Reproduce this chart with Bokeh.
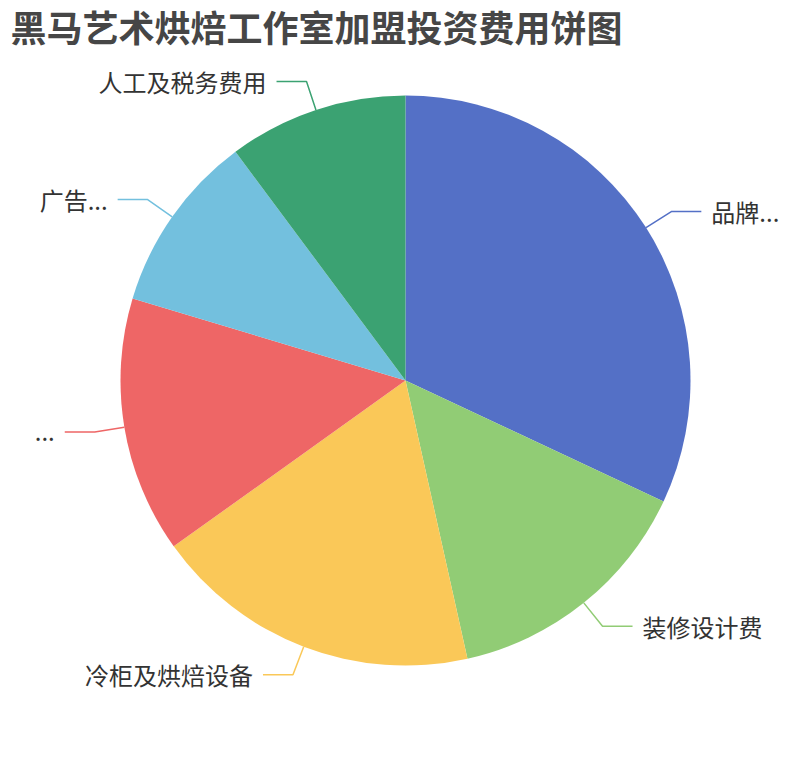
import numpy as np
from bokeh.plotting import figure
from bokeh.models import Range1d, ColumnDataSource
from bokeh.core.properties import value
from bokeh.embed import file_html
from bokeh.resources import INLINE

title_text = "黑马艺术烘焙工作室加盟投资费用饼图"
names = ["品牌...", "装修设计费", "冷柜及烘焙设备", "...", "广告...", "人工及税务费用"]
values = [11, 5, 6.4, 5, 3.5, 3.5]
colors = ["#5470c6", "#91cc75", "#fac858", "#ee6666", "#73c0de", "#3ba272"]

W, H = 794, 744
p = figure(width=W, height=H, output_backend="svg", toolbar_location=None,
           x_range=Range1d(0, W), y_range=Range1d(760 - H, 760),
           min_border=0, outline_line_color=None, background_fill_color="white")
p.axis.visible = False
p.grid.visible = False

cx, cy, r = 405, 380, 285
vals = np.array(values, dtype=float)
frac = vals / vals.sum()
cum = np.concatenate([[0], np.cumsum(frac)])
start = np.pi / 2 - cum[:-1] * 2 * np.pi
end = np.pi / 2 - cum[1:] * 2 * np.pi

src = ColumnDataSource(dict(start=start, end=end, color=colors, name=names))
p.wedge(x=cx, y=cy, radius=r, start_angle="start", end_angle="end",
        direction="clock", fill_color="color", line_color=None, source=src)

mid = (start + end) / 2
L1, L2, gap = 30, 30, 10
for ang, col, nm in zip(mid, colors, names):
    x0, y0 = cx + r * np.cos(ang), cy + r * np.sin(ang)
    x1, y1 = cx + (r + L1) * np.cos(ang), cy + (r + L1) * np.sin(ang)
    right = np.cos(ang) >= 0
    x2 = x1 + (L2 if right else -L2)
    p.line([x0, x1, x2], [y0, y1, y1], line_color=col, line_width=1.5)
    tx = x2 + (gap if right else -gap)
    p.text(x=[tx], y=[y1], text=[nm], text_font=value("Noto Sans CJK SC"),
           text_font_size="24px", text_color="#333333",
           text_align="left" if right else "right", text_baseline="middle")

p.text(x=[10], y=[760 - 25], text=[title_text], text_font=value("Noto Sans CJK SC"),
       text_font_size="36px", text_font_style="bold", text_color="#464646",
       text_align="left", text_baseline="middle")

open("out.html", "w").write(file_html(p, INLINE))
